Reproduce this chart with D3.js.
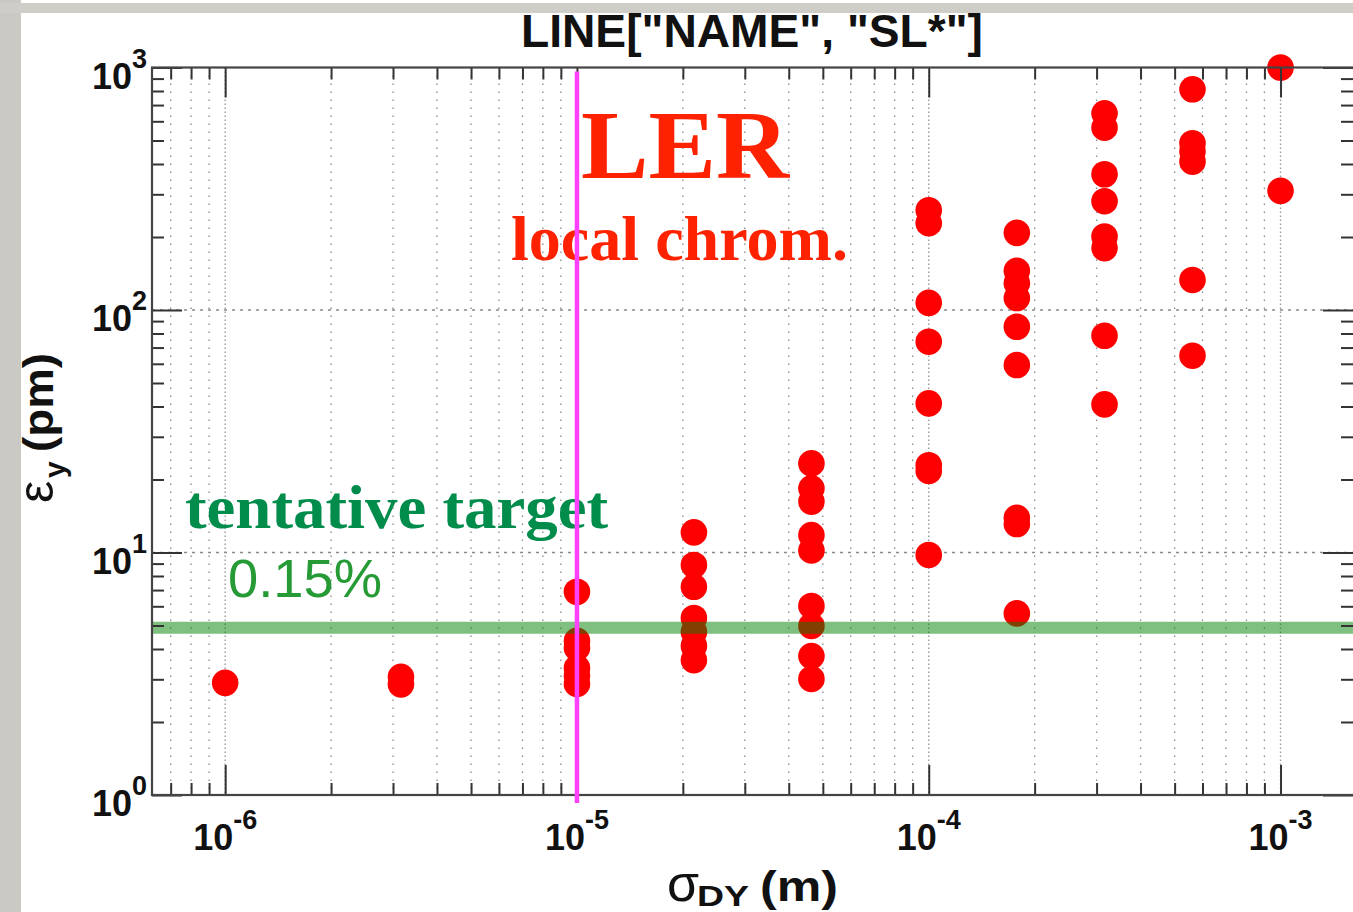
<!DOCTYPE html>
<html>
<head>
<meta charset="utf-8">
<script src="https://cdn.jsdelivr.net/npm/d3@7"></script>
<style>
  html, body { margin: 0; padding: 0; background: #ffffff; }
  svg { display: block; }
</style>
</head>
<body>
<svg id="chart" width="1353" height="912"></svg>
<script>
// Vertical beam size at the IP (sigma_DY, m) scanned in log steps
const sigmaDY = [1e-6, 3.16e-6, 1e-5, 2.15e-5, 4.64e-5, 1e-4, 1.78e-4, 3.16e-4, 5.62e-4, 1e-3];

// Resulting vertical emittance (pm) for each LINE["NAME","SL*"] element, one list per sigma_DY
const emitY = [
  [2.90],
  [3.07, 2.86],
  [6.89, 4.32, 4.04, 3.34, 3.10, 2.87],
  [12.1, 8.88, 7.22, 5.37, 4.70, 4.12, 3.60],
  [23.3, 18.4, 16.2, 11.8, 10.2, 6.02, 4.98, 3.74, 3.01],
  [258, 228, 107, 74.0, 41.2, 22.9, 21.7, 9.77],
  [208, 145, 129, 112, 85.3, 59.3, 13.9, 13.1, 5.61],
  [647, 565, 363, 281, 201, 180, 78.3, 40.8],
  [813, 487, 450, 409, 133, 64.8],
  [1000, 310]
];

// Tentative target emittance (0.15 % coupling)
const targetEmit = 4.9;
// Local chromaticity correction marker
const markerSigma = 1e-5;

// Axis decades and their exponent labels
const xDecades = [1e-6, 1e-5, 1e-4, 1e-3];
const xExponents = ["-6", "-5", "-4", "-3"];
const yDecades = [1, 10, 100, 1000];
const yExponents = ["0", "1", "2", "3"];

const svg = d3.select("#chart");
const W = 1353, H = 912;
const plot = { left: 152, right: 1353, top: 67.5, bottom: 795 };

const x = d3.scaleLog()
  .domain([Math.pow(10, -6.208), Math.pow(10, -2.794)])
  .range([plot.left, plot.right]);
const y = d3.scaleLog()
  .domain([1, 1000])
  .range([plot.bottom, plot.top]);

const isDecade = v => Math.abs(Math.log10(v) - Math.round(Math.log10(v))) < 1e-9;
const xMinor = x.ticks().filter(v => !isDecade(v));
const yMinor = y.ticks().filter(v => !isDecade(v));

// Page backdrop strips
svg.append("rect").attr("x", 0).attr("y", 0).attr("width", W).attr("height", H).attr("fill", "#ffffff");
svg.append("rect").attr("x", 0).attr("y", 0).attr("width", 21).attr("height", H).attr("fill", "#cbc9c3");
svg.append("rect").attr("x", 0).attr("y", 3).attr("width", W).attr("height", 10).attr("fill", "#cfcdc7");

// Grid: dotted lines at every x tick, at inner y decades
const grid = svg.append("g");
grid.selectAll("line.vminor").data(xMinor).join("line")
  .attr("x1", d => x(d)).attr("x2", d => x(d))
  .attr("y1", plot.top).attr("y2", plot.bottom)
  .attr("stroke", "#8a8a8a").attr("stroke-width", 1.3)
  .attr("stroke-dasharray", "1.6,6.4");
grid.selectAll("line.vmajor").data(xDecades).join("line")
  .attr("x1", d => x(d)).attr("x2", d => x(d))
  .attr("y1", plot.top).attr("y2", plot.bottom)
  .attr("stroke", "#9a9a9a").attr("stroke-width", 1.4)
  .attr("stroke-dasharray", "1.6,2.4");
grid.selectAll("line.h").data([10, 100]).join("line")
  .attr("x1", plot.left).attr("x2", plot.right)
  .attr("y1", d => y(d)).attr("y2", d => y(d))
  .attr("stroke", "#8a8a8a").attr("stroke-width", 1.3)
  .attr("stroke-dasharray", "3,5");

// Data points
const pts = [];
sigmaDY.forEach((s, i) => emitY[i].forEach(e => pts.push({ s, e })));
svg.append("g").selectAll("circle").data(pts).join("circle")
  .attr("cx", d => x(d.s)).attr("cy", d => y(d.e))
  .attr("r", 13.3).attr("fill", "#ff0000");

// Target band
svg.append("line")
  .attr("x1", plot.left).attr("x2", plot.right)
  .attr("y1", y(targetEmit)).attr("y2", y(targetEmit))
  .attr("stroke", "#008000").attr("stroke-opacity", 0.5).attr("stroke-width", 12);

// Ticks (inward on all four sides)
function styleAxis(g) {
  g.select(".domain").remove();
  g.selectAll(".tick line").attr("stroke", "#333").attr("stroke-width", 2);
  g.selectAll(".tick text").remove();
}
const axes = svg.append("g");
[[xMinor, 12], [xDecades, 30]].forEach(([vals, len]) => {
  axes.append("g").attr("transform", `translate(0,${plot.bottom})`)
    .call(d3.axisBottom(x).tickValues(vals).tickSize(-len).tickSizeOuter(0)).call(styleAxis);
  axes.append("g").attr("transform", `translate(0,${plot.top})`)
    .call(d3.axisTop(x).tickValues(vals).tickSize(-len).tickSizeOuter(0)).call(styleAxis);
});
[[yMinor, 12], [yDecades, 30]].forEach(([vals, len]) => {
  axes.append("g").attr("transform", `translate(${plot.left},0)`)
    .call(d3.axisLeft(y).tickValues(vals).tickSize(-len).tickSizeOuter(0)).call(styleAxis);
  axes.append("g").attr("transform", `translate(${plot.right},0)`)
    .call(d3.axisRight(y).tickValues(vals).tickSize(-len).tickSizeOuter(0)).call(styleAxis);
});

// Frame
svg.append("rect")
  .attr("x", plot.left).attr("y", plot.top)
  .attr("width", plot.right - plot.left + 2).attr("height", plot.bottom - plot.top)
  .attr("fill", "none").attr("stroke", "#444").attr("stroke-width", 2.2);

// Tick labels with superscript exponents
const sans = "'Liberation Sans', Arial, Helvetica, sans-serif";
const xl = svg.append("g").attr("font-family", sans).attr("font-weight", "bold").attr("fill", "#111");
xDecades.forEach((v, i) => {
  const t = xl.append("text").attr("x", x(v)).attr("y", plot.bottom + 55)
    .attr("text-anchor", "middle").attr("font-size", 36);
  t.append("tspan").text("10");
  t.append("tspan").attr("dy", -21).attr("font-size", 27).text(xExponents[i]);
});
yDecades.forEach((v, i) => {
  const t = xl.append("text").attr("x", plot.left - 5).attr("y", y(v) + 21)
    .attr("text-anchor", "end").attr("font-size", 36);
  t.append("tspan").text("10");
  t.append("tspan").attr("dy", -21).attr("font-size", 27).text(yExponents[i]);
});

// Title
svg.append("text").attr("x", 752).attr("y", 47).attr("text-anchor", "middle")
  .attr("font-family", sans).attr("font-weight", "bold").attr("font-size", 46)
  .attr("fill", "#111").attr("textLength", 462).attr("lengthAdjust", "spacingAndGlyphs")
  .text('LINE["NAME", "SL*"]');

// Axis titles
const xt = svg.append("g").attr("font-family", sans).attr("fill", "#111");
xt.append("text").attr("x", 667).attr("y", 901).attr("font-size", 52).text("σ");
xt.append("text").attr("x", 697).attr("y", 906).attr("font-size", 29).attr("font-weight", "bold")
  .attr("textLength", 52).attr("lengthAdjust", "spacingAndGlyphs").text("DY");
xt.append("text").attr("x", 760).attr("y", 901).attr("font-size", 42).attr("font-weight", "bold")
  .attr("textLength", 78).attr("lengthAdjust", "spacingAndGlyphs").text("(m)");

const yt = svg.append("g").attr("transform", "translate(53,503) rotate(-90)")
  .attr("font-family", sans).attr("fill", "#111");
yt.append("text").attr("x", 0).attr("y", 0).attr("font-size", 50).text("ε");
yt.append("text").attr("x", 25).attr("y", 12).attr("font-size", 30).attr("font-weight", "bold").text("y");
yt.append("text").attr("x", 51).attr("y", 0).attr("font-size", 42).attr("font-weight", "bold")
  .attr("textLength", 99).attr("lengthAdjust", "spacingAndGlyphs").text("(pm)");

// Annotations
const serif = "'Liberation Serif', 'Times New Roman', serif";
svg.append("text").attr("x", 581).attr("y", 178)
  .attr("font-family", serif).attr("font-weight", "bold").attr("font-size", 98)
  .attr("fill", "#ff2200").attr("textLength", 208).attr("lengthAdjust", "spacingAndGlyphs")
  .text("LER");
svg.append("text").attr("x", 511).attr("y", 260)
  .attr("font-family", serif).attr("font-weight", "bold").attr("font-size", 63)
  .attr("fill", "#ff2200").attr("textLength", 337).attr("lengthAdjust", "spacingAndGlyphs")
  .text("local chrom.");
svg.append("text").attr("x", 185).attr("y", 528)
  .attr("font-family", serif).attr("font-weight", "bold").attr("font-size", 62)
  .attr("fill", "#008c4b").attr("textLength", 423).attr("lengthAdjust", "spacingAndGlyphs")
  .text("tentative target");
svg.append("text").attr("x", 228).attr("y", 597)
  .attr("font-family", sans).attr("font-size", 54)
  .attr("fill", "#259a35").attr("textLength", 154).attr("lengthAdjust", "spacingAndGlyphs")
  .text("0.15%");

// Marker line at sigma_DY = 1e-5
svg.append("line")
  .attr("x1", x(markerSigma)).attr("x2", x(markerSigma))
  .attr("y1", 71.5).attr("y2", 803)
  .attr("stroke", "#ff40ff").attr("stroke-width", 4.5);
</script>
</body>
</html>
